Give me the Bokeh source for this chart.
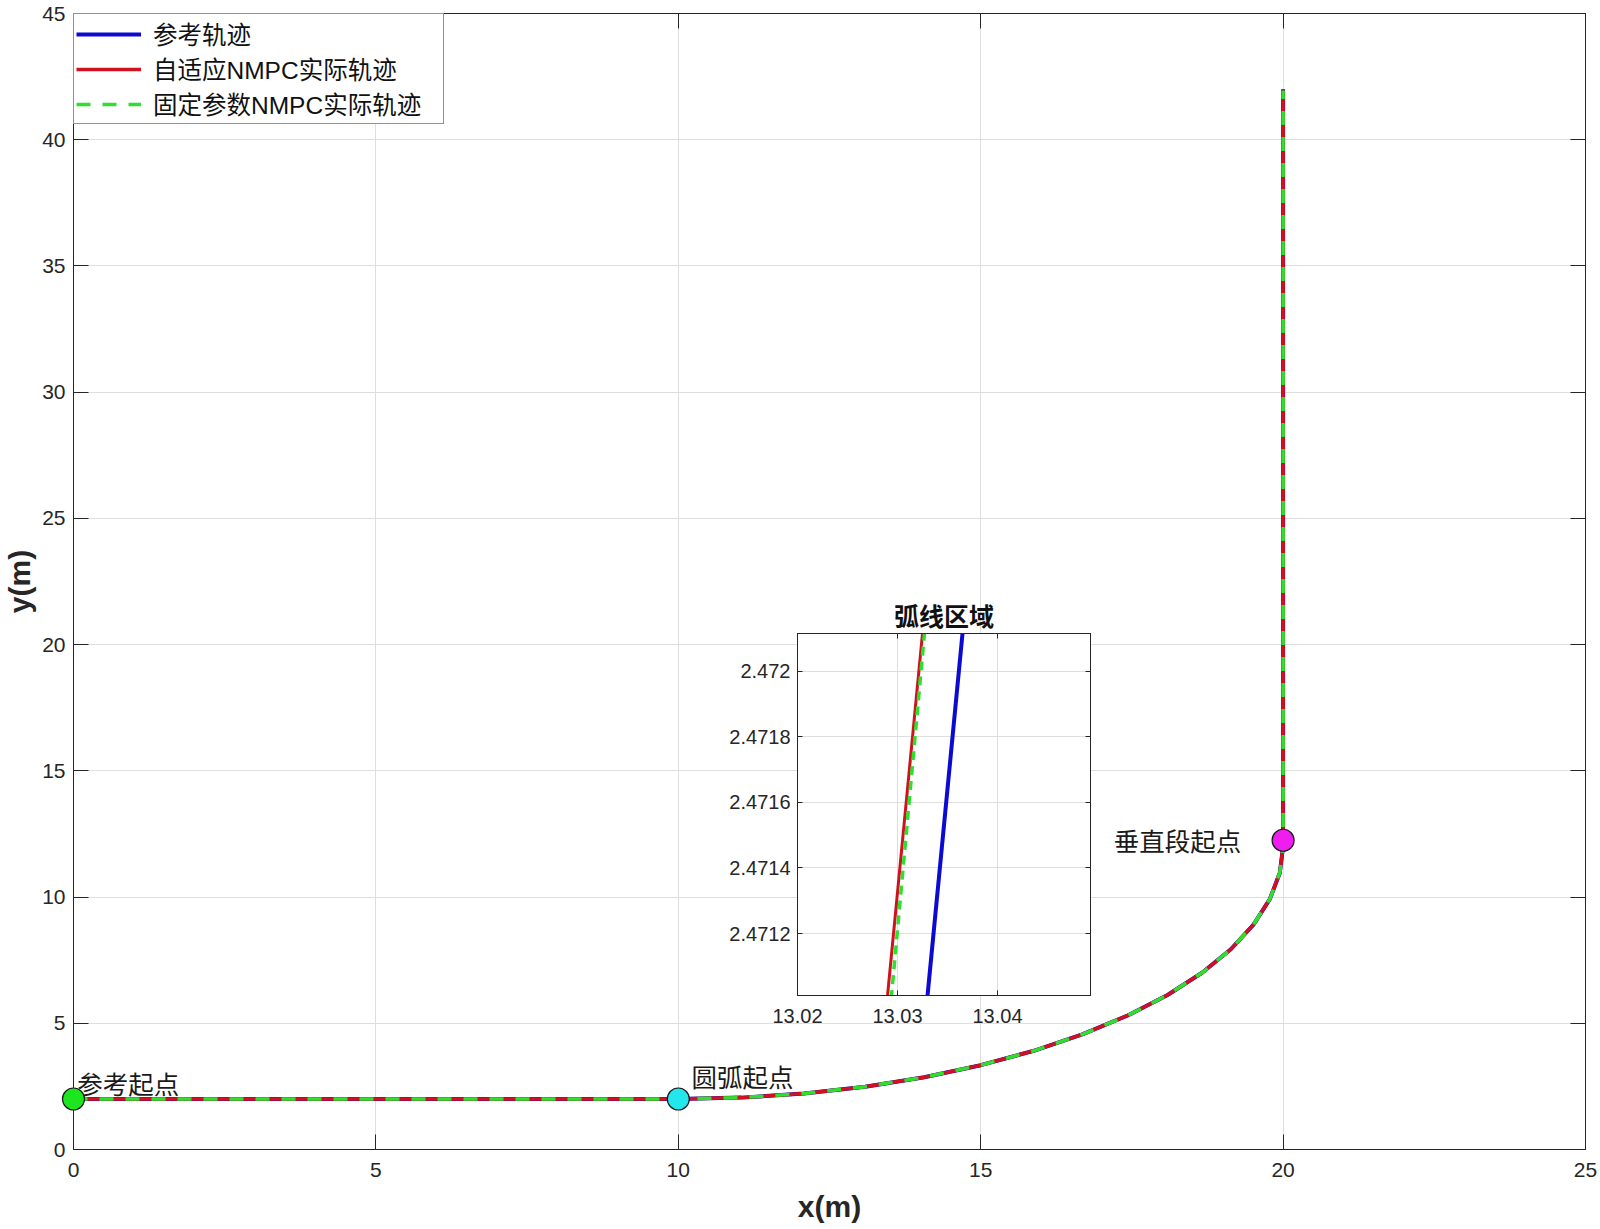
from bokeh.plotting import figure
from bokeh.models import Range1d, LinearAxis, FixedTicker, CustomJSTickFormatter
from bokeh.layouts import column
from bokeh.embed import file_html
from bokeh.resources import INLINE
from bokeh.core.properties import value

# ---------------- data ----------------
ref_x = [0.0, 10.0, 11.045, 12.079, 13.090, 14.067, 15.0, 15.878, 16.691, 17.431,
         18.090, 18.660, 19.136, 19.511, 19.781, 19.945, 20.0, 20.0]
ref_y = [2.0, 2.0, 2.055, 2.219, 2.489, 2.864, 3.340, 3.910, 4.569, 5.309,
         6.122, 7.0, 7.933, 8.910, 9.921, 10.955, 12.0, 42.0]
adaptive_x = [0.0, 10.0, 11.045, 12.079, 13.090, 14.067, 15.0, 15.878, 16.691, 17.431,
              18.090, 18.660, 19.136, 19.511, 19.781, 19.945, 20.0, 20.0]
adaptive_y = [2.0, 2.0, 2.055, 2.219, 2.489, 2.864, 3.340, 3.910, 4.569, 5.309,
              6.122, 7.0, 7.933, 8.910, 9.921, 10.955, 12.0, 41.95]
fixed_x = [0.0, 10.0, 11.045, 12.079, 13.090, 14.067, 15.0, 15.878, 16.691, 17.431,
           18.090, 18.660, 19.136, 19.511, 19.781, 19.945, 20.0, 20.0]
fixed_y = [2.0, 2.0, 2.055, 2.219, 2.489, 2.864, 3.340, 3.910, 4.569, 5.309,
           6.122, 7.0, 7.933, 8.910, 9.921, 10.955, 12.0, 41.95]

point_x = [0.0, 10.0, 20.0]
point_y = [2.0, 2.0, 12.25]
point_colors = ["#1ee61e", "#22e8ee", "#ee1eee"]

label_text = ["参考起点", "圆弧起点", "垂直段起点"]
label_x = [0.06, 10.22, 17.2]
label_y = [2.64, 2.93, 12.28]

legend_names = ["参考轨迹", "自适应NMPC实际轨迹", "固定参数NMPC实际轨迹"]

x_ticks = [0, 5, 10, 15, 20, 25]
y_ticks = [0, 5, 10, 15, 20, 25, 30, 35, 40, 45]

# zoomed (inset) data
zoom_title = "弧线区域"
zoom_ref_x = [13.03297, 13.03677]
zoom_ref_y = [2.4710, 2.4722]
zoom_adaptive_x = [13.02897, 13.03277]
zoom_adaptive_y = [2.4710, 2.4722]
zoom_fixed_x = [13.02937, 13.03295]
zoom_fixed_y = [2.4710, 2.4722]
zoom_x_ticks = [13.02, 13.03, 13.04]
zoom_y_ticks = [2.4712, 2.4714, 2.4716, 2.4718, 2.472]

# ---------------- styles ----------------
BLUE = "#0a0ad2"
RED = "#d0121e"
GREEN = "#2ee02e"
AXC = "#262626"
GRIDC = "#dedede"
TICKFONT = "Liberation Sans"
CJK = "Noto Sans CJK SC"
MIXED = "Liberation Sans, Noto Sans CJK SC"


def style_axis(ax, ticks, tick_in, font_size, standoff, show_labels=True, fmt=None):
    ax.ticker = FixedTicker(ticks=ticks)
    ax.major_tick_in = tick_in
    ax.major_tick_out = 0
    ax.minor_tick_line_color = None
    ax.axis_line_color = AXC
    ax.major_tick_line_color = AXC
    ax.major_label_text_font = TICKFONT
    ax.major_label_text_color = AXC
    if show_labels:
        ax.major_label_text_font_size = font_size
        ax.major_label_standoff = standoff
        if fmt is not None:
            ax.formatter = fmt
    else:
        ax.major_label_text_font_size = "0px"
        ax.major_label_standoff = 0
        ax.formatter = CustomJSTickFormatter(code="return ''")


# ---------------- main figure ----------------
p = figure(width=1600, height=1229, x_range=Range1d(0, 25), y_range=Range1d(0, 45),
           output_backend="svg", toolbar_location=None,
           min_border_left=72, min_border_right=15, min_border_top=13, min_border_bottom=80)
p.background_fill_color = "white"
p.border_fill_color = "white"
p.outline_line_color = AXC
p.outline_line_width = 1

style_axis(p.xaxis[0], x_ticks, 15, "21px", 13)
style_axis(p.yaxis[0], y_ticks, 15, "21px", 8)
p.xaxis[0].axis_label = "x(m)"
p.yaxis[0].axis_label = "y(m)"
for ax in (p.xaxis[0], p.yaxis[0]):
    ax.axis_label_text_font = TICKFONT
    ax.axis_label_text_font_style = "bold"
    ax.axis_label_text_font_size = "30px"
    ax.axis_label_text_color = AXC
p.xaxis[0].axis_label_standoff = 10
p.yaxis[0].axis_label_standoff = 3

top_ax = LinearAxis()
right_ax = LinearAxis()
style_axis(top_ax, x_ticks, 15, "0px", 0, show_labels=False)
style_axis(right_ax, y_ticks, 15, "0px", 0, show_labels=False)
p.add_layout(top_ax, "above")
p.add_layout(right_ax, "right")

p.xgrid.ticker = FixedTicker(ticks=x_ticks)
p.ygrid.ticker = FixedTicker(ticks=y_ticks)
p.grid.grid_line_color = GRIDC
p.grid.grid_line_width = 1

p.line(ref_x, ref_y, line_color=BLUE, line_width=4, legend_label=legend_names[0])
p.line(adaptive_x, adaptive_y, line_color=RED, line_width=3.5, legend_label=legend_names[1])
p.line(fixed_x, fixed_y, line_color=GREEN, line_width=3.5, line_dash="14 12",
       legend_label=legend_names[2])

pts = p.scatter(point_x, point_y, size=22, fill_color=point_colors, line_color="#1a1a1a",
                line_width=1.2)
pts.level = "overlay"
p.text(label_x, label_y, text=label_text, text_font=value(CJK), text_font_size="25.5px",
       text_baseline="middle", text_align="left", text_color="#1a1a1a")

lg = p.legend[0]
lg.location = "top_left"
lg.margin = 0
lg.padding = 2
lg.spacing = 0
lg.glyph_width = 65
lg.glyph_height = 20
lg.label_height = 26
lg.label_width = 288
lg.label_standoff = 12
lg.label_text_font = MIXED
lg.label_text_font_size = "24.5px"
lg.label_text_color = "#111111"
lg.label_text_baseline = "middle"
lg.border_line_color = AXC
lg.border_line_width = 1
lg.background_fill_color = "white"
lg.background_fill_alpha = 1.0

# ---------------- inset figure ----------------
q = figure(frame_width=293, frame_height=362,
           x_range=Range1d(13.02, 13.0493), y_range=Range1d(2.471011, 2.472115),
           output_backend="svg", toolbar_location=None,
           min_border_left=70, min_border_right=6, min_border_top=40, min_border_bottom=40)
q.border_fill_color = None
q.background_fill_color = "white"
q.outline_line_color = AXC
q.outline_line_width = 1
q.title.text = zoom_title
q.title.align = "center"
q.title.text_font = CJK
q.title.text_font_style = "bold"
q.title.text_font_size = "25px"
q.title.text_color = "#111111"
q.title.standoff = 2

style_axis(q.xaxis[0], zoom_x_ticks, 5, "20px", 13,
           fmt=CustomJSTickFormatter(code="return String(parseFloat(tick.toFixed(6)));"))
style_axis(q.yaxis[0], zoom_y_ticks, 5, "20px", 7,
           fmt=CustomJSTickFormatter(code="return String(parseFloat(tick.toFixed(6)));"))
q_top = LinearAxis()
q_right = LinearAxis()
style_axis(q_top, zoom_x_ticks, 5, "0px", 0, show_labels=False)
style_axis(q_right, zoom_y_ticks, 5, "0px", 0, show_labels=False)
q.add_layout(q_top, "above")
q.add_layout(q_right, "right")
q.xgrid.ticker = FixedTicker(ticks=zoom_x_ticks)
q.ygrid.ticker = FixedTicker(ticks=zoom_y_ticks)
q.grid.grid_line_color = GRIDC

q.line(zoom_ref_x, zoom_ref_y, line_color=BLUE, line_width=4)
q.line(zoom_adaptive_x, zoom_adaptive_y, line_color=RED, line_width=3)
q.line(zoom_fixed_x, zoom_fixed_y, line_color=GREEN, line_width=3.5, line_dash="9 6")

q.styles = {"position": "absolute", "left": "724px", "top": "593px"}

layout = column(p, q)
open("out.html", "w").write(file_html(layout, INLINE))
